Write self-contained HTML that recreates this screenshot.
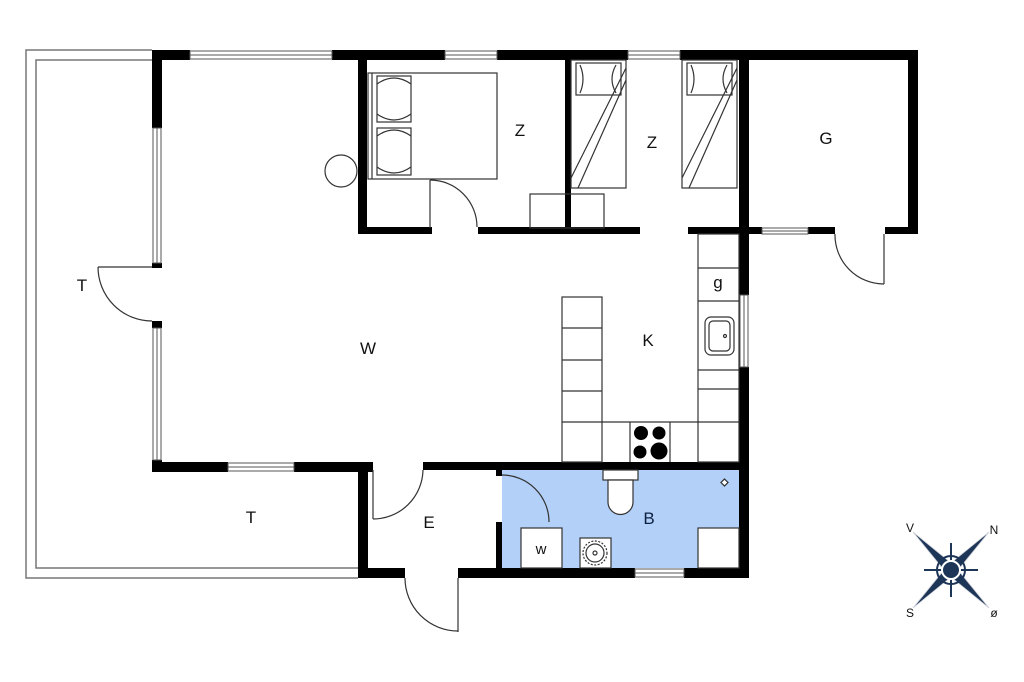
<!DOCTYPE html>
<html><head><meta charset="utf-8"><style>html,body{margin:0;padding:0;background:#fff}svg{display:block}text{font-family:"Liberation Sans",sans-serif;font-size:17px;fill:#111;text-anchor:middle}</style></head><body>
<svg width="1024" height="682" viewBox="0 0 1024 682" xmlns="http://www.w3.org/2000/svg">
<g fill="none" stroke="#777" stroke-width="1.5">
<polyline points="152,50 26,50 26,578 358,578"/>
<polyline points="152,60 36,60 36,568 358,568"/>
</g>
<rect x="502" y="470" width="237" height="98" fill="#b3d0f8"/>
<g fill="#000">
<rect x="152" y="50" width="38" height="10"/><rect x="332" y="50" width="113" height="10"/><rect x="497" y="50" width="131" height="10"/><rect x="680" y="50" width="238" height="10"/>
<rect x="152" y="50" width="10" height="78"/><rect x="152" y="263" width="10" height="5"/><rect x="152" y="321" width="10" height="7"/><rect x="152" y="460" width="10" height="12"/>
<rect x="152" y="462" width="76" height="10"/><rect x="294" y="462" width="79" height="10"/>
<rect x="358" y="462" width="10" height="116"/><rect x="358" y="568" width="47" height="10"/>
<rect x="458" y="568" width="177" height="10"/><rect x="684" y="568" width="65" height="10"/>
<rect x="423" y="462" width="326" height="8"/>
<rect x="496" y="470" width="6" height="6"/><rect x="496" y="522" width="6" height="46"/>
<rect x="739" y="234" width="10" height="61"/><rect x="739" y="367" width="10" height="211"/>
<rect x="739" y="50" width="10" height="184"/><rect x="908" y="50" width="10" height="184"/>
<rect x="358" y="50" width="9" height="184"/><rect x="565" y="50" width="6" height="184"/>
<rect x="358" y="227" width="74" height="7"/><rect x="478" y="227" width="162" height="7"/><rect x="688" y="227" width="74" height="7"/>
<rect x="808" y="227" width="27" height="7"/><rect x="885" y="227" width="33" height="7"/>
</g>
<g fill="#fff" stroke="#555" stroke-width="1">
<rect x="190" y="51" width="142" height="8"/><line x1="190" y1="55" x2="332" y2="55"/>
<rect x="445" y="51" width="52" height="8"/><line x1="445" y1="55" x2="497" y2="55"/>
<rect x="628" y="51" width="52" height="8"/><line x1="628" y1="55" x2="680" y2="55"/>
<rect x="153" y="128" width="8" height="135"/><line x1="157" y1="128" x2="157" y2="263"/>
<rect x="153" y="328" width="8" height="132"/><line x1="157" y1="328" x2="157" y2="460"/>
<rect x="228" y="463" width="66" height="8"/><line x1="228" y1="467" x2="294" y2="467"/>
<rect x="635" y="569" width="49" height="8"/><line x1="635" y1="573" x2="684" y2="573"/>
<rect x="762" y="228" width="46" height="6"/><line x1="762" y1="231" x2="808" y2="231"/>
<rect x="740" y="295" width="8" height="72"/><line x1="744" y1="295" x2="744" y2="367"/>
</g>
<g fill="none" stroke="#333" stroke-width="1.2">
<line x1="98" y1="267" x2="152" y2="267"/><path d="M98,267 A54,54 0 0 0 152,321"/>
<line x1="430" y1="180" x2="430" y2="228"/><path d="M430,180 A47,47 0 0 1 477,227"/>
<line x1="884" y1="234" x2="884" y2="284"/><path d="M835,234 A49,49 0 0 0 884,284"/>
<line x1="373" y1="470" x2="373" y2="519"/><path d="M373,519 A50,50 0 0 0 423,470"/>
<line x1="458" y1="578" x2="458" y2="632"/><path d="M405,578 A53,53 0 0 0 458,631"/>
<path d="M502,475 A47,47 0 0 1 549,522"/>
<rect x="368" y="73" width="129" height="106"/><line x1="372" y1="73" x2="372" y2="179"/>
<rect x="377" y="76" width="34" height="46"/><rect x="377" y="128" width="34" height="47"/>
<path d="M377,84 Q394,72 411,84 M377,114 Q394,126 411,114 M377,136 Q394,124 411,136 M377,167 Q394,179 411,167"/>
<circle cx="341" cy="171" r="16"/>
<rect x="530" y="194" width="74" height="34"/>
<rect x="571" y="60" width="55" height="128"/><rect x="576" y="63" width="45" height="32"/>
<path d="M580,65 Q586,79 580,93 M616,65 Q608,79 616,93"/>
<line x1="571" y1="178" x2="626" y2="68"/><line x1="578" y1="188" x2="626" y2="80"/>
<rect x="682" y="60" width="55" height="128"/><rect x="687" y="63" width="45" height="32"/>
<path d="M691,65 Q697,79 691,93 M727,65 Q719,79 727,93"/>
<line x1="682" y1="178" x2="737" y2="68"/><line x1="689" y1="188" x2="737" y2="80"/>
<rect x="562" y="297" width="40" height="165"/>
<line x1="562" y1="328" x2="602" y2="328"/><line x1="562" y1="360" x2="602" y2="360"/><line x1="562" y1="391" x2="602" y2="391"/><line x1="562" y1="422" x2="739" y2="422"/>
<line x1="630" y1="422" x2="630" y2="462"/><line x1="670" y1="422" x2="670" y2="462"/>
<rect x="698" y="234" width="41" height="228"/>
<line x1="698" y1="268" x2="739" y2="268"/><line x1="698" y1="301" x2="739" y2="301"/><line x1="698" y1="370" x2="739" y2="370"/><line x1="698" y1="389" x2="739" y2="389"/>
<rect x="705" y="317" width="29" height="38" rx="6"/><rect x="709" y="321" width="21" height="30" rx="4"/><circle cx="725" cy="336" r="1.5"/>
</g>
<g fill="#000"><circle cx="641" cy="433" r="7"/><circle cx="659" cy="433" r="6.5"/><circle cx="640" cy="452" r="6.5"/><circle cx="659" cy="451" r="8.5"/></g>
<g stroke="#333" stroke-width="1.2" fill="#fff">
<rect x="603" y="470" width="35" height="10"/>
<path d="M608,480 L608,502 A12.5,12.5 0 0 0 633,502 L633,480 Z"/>
<rect x="521" y="528" width="41" height="40"/>
<rect x="580" y="538" width="31" height="30"/>
<circle cx="595" cy="553" r="12" fill="none" stroke-dasharray="2,1.5"/><circle cx="595" cy="553" r="9" fill="none"/><circle cx="595" cy="553" r="2" fill="none"/>
<rect x="698" y="528" width="41" height="40"/>
<rect x="722" y="480" width="5" height="5" transform="rotate(45 724.5 482.5)"/>
</g>
<g>
<text x="520" y="136">Z</text><text x="652" y="148">Z</text><text x="826" y="144">G</text>
<text x="82" y="291">T</text><text x="368" y="354">W</text><text x="648" y="346">K</text>
<text x="718" y="288">g</text><text x="251" y="523">T</text><text x="429" y="528">E</text>
<text x="649" y="524" style="fill:#0c2040">B</text><text x="541" y="554" style="font-size:15px">w</text>
</g>
<g transform="translate(951,570)">
<g fill="#1d3557" stroke="#c8ccd6" stroke-width="0.8">
<polygon points="-38,-38 -7,0 0,-7"/><polygon points="38,-38 7,0 0,-7"/>
<polygon points="-38,38 -7,0 0,7"/><polygon points="38,38 7,0 0,7"/>
</g>
<path d="M0,-27 V27 M-27,0 H27" stroke="#1d3557" stroke-width="2"/>
<circle r="14" fill="none" stroke="#1d3557" stroke-width="2"/>
<circle r="9" fill="#1d3557" stroke="#fff" stroke-width="2"/>
<text x="-41" y="-38" style="font-size:12px">V</text><text x="43" y="-36" style="font-size:12px">N</text>
<text x="-41" y="47" style="font-size:12px">S</text><text x="43" y="47" style="font-size:12px">ø</text>
</g>
</svg>
</body></html>
